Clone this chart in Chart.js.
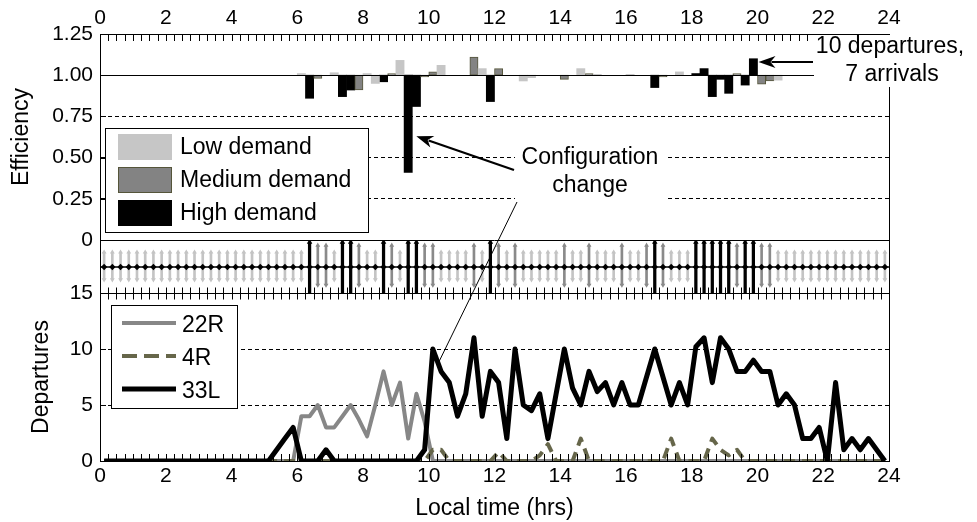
<!DOCTYPE html>
<html>
<head>
<meta charset="utf-8">
<script src="https://cdn.jsdelivr.net/npm/chart.js@4.4.1/dist/chart.umd.min.js"></script>
<style>
  html, body { margin: 0; padding: 0; background: #fff; }
  #wrap { width: 977px; height: 522px; }
</style>
</head>
<body>
<div id="wrap"><canvas id="chart"></canvas></div>
<script>
// 15 minute slots over one day, 96 of them.
const SLOT = 0.25;
const hourTicks = [0, 2, 4, 6, 8, 10, 12, 14, 16, 18, 20, 22, 24];
const effTicks = [0, 0.25, 0.5, 0.75, 1, 1.25];
const depTicks = [0, 5, 10, 15];

// demand class of each slot (everything else is low demand)
const highSlots = [25, 29, 30, 34, 37, 38, 47, 67, 72, 73, 74, 75, 76, 78, 79];
const mediumSlots = [26, 27, 31, 35, 39, 40, 45, 48, 50, 56, 59, 63, 66, 68, 77, 80, 81];

// efficiency bars (slot index -> efficiency), only where a bar shows
const effSlots = [24, 25, 26, 28, 29, 30, 31, 32, 33, 34, 35, 36, 37, 38, 39, 40, 41,
  45, 46, 47, 48, 51, 52, 56, 58, 59, 60, 64, 67, 68, 70, 72, 73, 74, 75, 76, 77, 78, 79, 80, 81, 82];
const effValues = [1.01, 0.86, 0.98, 1.015, 0.87, 0.91, 0.91, 1.01, 0.95, 0.96, 1.01, 1.09, 0.41, 0.81, 0.99, 1.02, 1.06,
  1.11, 1.04, 0.84, 1.04, 0.965, 0.985, 0.975, 1.04, 1.01, 1.005, 1.005, 0.925, 0.99, 1.02, 1.01, 1.04, 0.87, 0.975, 0.89, 1.01, 0.94, 1.10, 0.945, 0.965, 0.97];

// departures per slot, by runway
const dep22R = [
  0, 0, 0, 0, 0, 0, 0, 0, 0, 0, 0, 0, 0, 0, 0, 0, 0, 0, 0, 0, 0, 0, 0, 0,
  4, 4, 5, 3, 3, 4, 5, 3.7, 2.2, 5, 8, 5, 7, 2, 6, 3.5, 0, 0, 0, 0, 0, 0, 0, 0,
  0, 0, 0, 0, 0, 0, 0, 0, 0, 0, 0, 0, 0, 0, 0, 0, 0, 0, 0, 0, 0, 0, 0, 0,
  0, 0, 0, 0, 0, 0, 0, 0, 0, 0, 0, 0, 0, 0, 0, 0, 0, 0, 0, 0, 0, 0, 0, 0
];
const dep4R = [
  0, 0, 0, 0, 0, 0, 0, 0, 0, 0, 0, 0, 0, 0, 0, 0, 0, 0, 0, 0, 0, 0, 0, 0,
  0, 0, 0, 0, 0, 0, 0, 0, 0, 0, 0, 0, 0, 0, 0, 0, 1, 1, 0, 0, 0, 0, 0, 0,
  0.8, 0, 0, 0, 0, 0.5, 1.5, 0, 0, 0, 2, 0, 0, 0, 0, 0, 0, 0, 0, 0, 0, 2, 0, 0,
  0, 0, 2, 1, 0.5, 1, 0, 0, 0, 0, 0, 0, 0, 0, 0, 0, 0, 0, 0, 0, 0, 0, 0, 0
];
const dep33L = [
  0, 0, 0, 0, 0, 0, 0, 0, 0, 0, 0, 0, 0, 0, 0, 0, 0, 0, 0, 0, 0, 1, 2, 3,
  0, 0, 0, 1, 0, 0, 0, 0, 0, 0, 0, 0, 0, 0, 0, 1, 10, 8, 7, 4, 6, 11, 4, 8,
  7, 2, 10, 5, 4.5, 6, 2, 6, 10, 6.5, 5, 8, 6.2, 7, 5, 7, 5, 5, 7.5, 10, 7.5, 5, 7, 5,
  10.2, 11, 7, 11, 10, 8, 8, 9, 8, 8, 5, 6, 5, 2, 2, 3, 0, 7, 1, 2, 1, 2, 1, 0
];

// stem extent on the strip by demand class (low, medium, high) and the strip axis
const stemRange = [[0.25, 0.77], [0.15, 0.9], [0, 0.96]];
const stripLine = 0.49;

const FONT = '"Liberation Sans", Arial, Helvetica, sans-serif';
Chart.defaults.font.family = FONT;
Chart.defaults.font.size = 21;
Chart.defaults.color = '#000';

const demandLabels = ['Low demand', 'Medium demand', 'High demand'];
const barColor = ['#c6c6c6', '#838383', '#000000'];
const barBorder = ['#c6c6c6', '#55553a', '#000000'];
const stemColor = ['#c4c4c4', '#8a8a8a', '#000000'];

const slots = dep33L.map((_, k) => k);
const slotCenter = k => k * SLOT + SLOT / 2;
const demandOf = k => highSlots.includes(k) ? 2 : (mediumSlots.includes(k) ? 1 : 0);

function effBars(c) {
  const pts = [];
  effSlots.forEach((k, i) => {
    if (demandOf(k) === c) pts.push({ x: slotCenter(k), y: [1, effValues[i]] });
  });
  return {
    type: 'bar', label: demandLabels[c], xAxisID: 'x', yAxisID: 'yEff', data: pts,
    grouped: false, barPercentage: 1, categoryPercentage: 1,
    backgroundColor: barColor[c], borderColor: barBorder[c],
    borderWidth: c === 1 ? 1 : 0, borderSkipped: false
  };
}

function stems(c) {
  return {
    type: 'bar', xAxisID: 'x', yAxisID: 'yStrip',
    data: slots.filter(k => demandOf(k) === c).map(k => ({ x: slotCenter(k), y: stemRange[c] })),
    grouped: false, barPercentage: 1, categoryPercentage: 1,
    maxBarThickness: c === 2 ? 2.6 : 2, backgroundColor: stemColor[c], borderWidth: 0
  };
}

function heads(c, top) {
  return {
    type: 'line', showLine: false, xAxisID: 'x', yAxisID: 'yStrip',
    data: slots.filter(k => demandOf(k) === c).map(k => ({ x: slotCenter(k), y: stemRange[c][top ? 1 : 0] })),
    pointStyle: 'triangle', pointRotation: top ? 0 : 180, pointRadius: c === 2 ? 3.2 : 2.8,
    pointBackgroundColor: stemColor[c], pointBorderColor: stemColor[c], pointBorderWidth: 0
  };
}

function depLine(label, values, color, width, dash) {
  return {
    type: 'line', label: label, xAxisID: 'x', yAxisID: 'yDep',
    data: values.map((v, k) => ({ x: slotCenter(k), y: v })),
    borderColor: color, backgroundColor: color, borderWidth: width, borderDash: dash,
    borderJoinStyle: 'round', pointRadius: 0, tension: 0, fill: false
  };
}

const runway22R = depLine('22R', dep22R, '#878787', 4, []);
const runway4R = depLine('4R', dep4R, '#66664a', 4, [11, 7]);
const runway33L = depLine('33L', dep33L, '#000000', 5, []);

const stripCenter = {
  type: 'line', xAxisID: 'x', yAxisID: 'yStrip',
  data: [{ x: 0, y: stripLine }].concat(slots.map(k => ({ x: slotCenter(k), y: stripLine })), [{ x: 24, y: stripLine }]),
  borderColor: '#000', borderWidth: 1.5, tension: 0,
  pointStyle: 'rectRot', pointBackgroundColor: '#000', pointBorderColor: '#000', pointBorderWidth: 0,
  pointRadius: ctx => (ctx.raw.x === 0 || ctx.raw.x === 24) ? 0 : 3.2
};

function seg(ctx, x1, y1, x2, y2) {
  ctx.beginPath();
  ctx.moveTo(x1, y1);
  ctx.lineTo(x2, y2);
  ctx.stroke();
}

function arrow(ctx, x1, y1, x2, y2) {
  const ang = Math.atan2(y2 - y1, x2 - x1);
  const len = 17, half = 6;
  const bx = x2 - len * Math.cos(ang), by = y2 - len * Math.sin(ang);
  ctx.lineWidth = 2.2;
  seg(ctx, x1, y1, bx + 4 * Math.cos(ang), by + 4 * Math.sin(ang));
  ctx.beginPath();
  ctx.moveTo(x2, y2);
  ctx.lineTo(bx - half * Math.sin(ang), by + half * Math.cos(ang));
  ctx.lineTo(bx + 5 * Math.cos(ang), by + 5 * Math.sin(ang));
  ctx.lineTo(bx + half * Math.sin(ang), by - half * Math.cos(ang));
  ctx.closePath();
  ctx.fill();
}

// frame, inward ticks, legends and the two call-outs
const decorations = {
  id: 'decorations',
  afterDatasetsDraw(chart) {
    const { ctx, chartArea: a, scales } = chart;
    const x = scales.x, yE = scales.yEff, yD = scales.yDep;
    const px = v => Math.round(v) + 0.5;
    ctx.save();
    ctx.strokeStyle = '#000';
    ctx.fillStyle = '#000';
    ctx.lineWidth = 1;

    const y1 = px(yE.getPixelForValue(1));
    const y0 = px(yE.getPixelForValue(0));
    const y15 = px(yD.getPixelForValue(15));
    seg(ctx, a.left, y1, a.right, y1);
    seg(ctx, a.left, y0, a.right, y0);
    seg(ctx, a.left, y15, a.right, y15);
    seg(ctx, px(a.right), a.top, px(a.right), a.bottom);

    for (let k = 0; k <= 96; k++) {
      const tx = px(x.getPixelForValue(k * SLOT));
      seg(ctx, tx, a.top, tx, a.top + 7);
      seg(ctx, tx, y15 - 6, tx, y15 + 6);
      seg(ctx, tx, a.bottom - 7, tx, a.bottom);
    }
    effTicks.forEach(v => { const ty = px(yE.getPixelForValue(v)); seg(ctx, a.left, ty, a.left + 6, ty); });
    depTicks.forEach(v => { const ty = px(yD.getPixelForValue(v)); seg(ctx, a.left, ty, a.left + 6, ty); });

    ctx.font = '23px ' + FONT;
    ctx.textBaseline = 'middle';

    // demand legend
    ctx.fillStyle = '#fff';
    ctx.fillRect(105.5, 128.5, 263, 104);
    ctx.strokeRect(105.5, 128.5, 263, 104);
    demandLabels.forEach((label, i) => {
      const sy = 134 + i * 33;
      ctx.fillStyle = barColor[i];
      ctx.fillRect(118, sy, 54, 26);
      if (i === 1) { ctx.strokeStyle = barBorder[1]; ctx.strokeRect(118.5, sy + 0.5, 53, 25); ctx.strokeStyle = '#000'; }
      ctx.fillStyle = '#000';
      ctx.textAlign = 'left';
      ctx.fillText(label, 180, sy + 14);
    });

    // runway legend
    ctx.fillStyle = '#fff';
    ctx.fillRect(111.5, 305.5, 126, 103);
    ctx.strokeRect(111.5, 305.5, 126, 103);
    [runway22R, runway4R, runway33L].forEach((ds, i) => {
      const ly = 323 + i * 33;
      ctx.save();
      ctx.strokeStyle = ds.borderColor;
      ctx.lineWidth = ds.borderWidth;
      ctx.setLineDash(ds.borderDash.length ? [15, 7] : []);
      seg(ctx, 122, ly, 176, ly);
      ctx.restore();
      ctx.fillStyle = '#000';
      ctx.textAlign = 'left';
      ctx.fillText(ds.label, 182, ly + 3);
    });

    // "10 departures, 7 arrivals"
    ctx.fillStyle = '#fff';
    ctx.fillRect(814, 35, 163, 52);
    ctx.fillStyle = '#000';
    ctx.textAlign = 'center';
    ctx.fillText('10 departures,', 890, 47);
    ctx.fillText('7 arrivals', 892, 75);
    arrow(ctx, 813, yE.getPixelForValue(1.08), x.getPixelForValue(20) + 1, yE.getPixelForValue(1.08));

    // "Configuration change"
    ctx.fillStyle = '#fff';
    ctx.fillRect(515, 141, 151, 61);
    ctx.fillStyle = '#000';
    ctx.fillText('Configuration', 590, 158);
    ctx.fillText('change', 590, 186);
    arrow(ctx, 514, 170, x.getPixelForValue(9.5) + 4, yE.getPixelForValue(0.63));
    ctx.lineWidth = 1;
    seg(ctx, 517, 202, x.getPixelForValue(10.3), yD.getPixelForValue(8.8));
    ctx.restore();
  }
};

const hourAxis = (position, height, extra) => Object.assign({
  type: 'linear', position: position, min: 0, max: 24, offset: false,
  grid: { display: false, drawTicks: false },
  border: { display: true, color: '#000', width: 1 },
  ticks: { font: { size: 21 }, maxRotation: 0, autoSkip: false },
  afterBuildTicks: s => { s.ticks = hourTicks.map(v => ({ value: v })); },
  afterFit: s => { s.height = height; }
}, extra);

new Chart(document.getElementById('chart'), {
  type: 'line',
  data: {
    datasets: [
      runway33L, runway4R, runway22R,
      stripCenter,
      heads(2, true), heads(1, true), heads(1, false), heads(0, true), heads(0, false),
      stems(2), stems(1), stems(0),
      effBars(0), effBars(1), effBars(2)
    ]
  },
  options: {
    responsive: true,
    maintainAspectRatio: false,
    animation: false,
    events: [],
    layout: { padding: { left: 0, right: 88, top: 0, bottom: 0 } },
    plugins: { legend: { display: false }, tooltip: { enabled: false } },
    scales: {
      x: hourAxis('bottom', 61, {
        title: { display: true, text: 'Local time (hrs)', font: { size: 23 }, padding: { top: 0, bottom: 0 } }
      }),
      xTop: hourAxis('top', 34, {}),
      yEff: {
        type: 'linear', position: 'left', stack: 'panels', stackWeight: 206, weight: 3,
        min: 0, max: 1.25,
        afterBuildTicks: s => { s.ticks = effTicks.map(v => ({ value: v })); },
        ticks: { padding: 7, autoSkip: false, callback: v => v === 0 ? '0' : v.toFixed(2) },
        grid: {
          drawTicks: false, lineWidth: 1,
          color: c => [0.25, 0.5, 0.75].includes(c.tick.value) ? '#000' : 'rgba(0,0,0,0)'
        },
        border: { display: true, color: '#000', width: 1, dash: [4, 3] },
        title: { display: true, text: 'Efficiency', font: { size: 23 }, padding: { top: 8, bottom: 0 } },
        afterFit: s => { s.width = 100; }
      },
      yStrip: {
        type: 'linear', position: 'left', stack: 'panels', stackWeight: 53, weight: 2,
        min: 0, max: 1,
        ticks: { display: false },
        grid: { display: false, drawTicks: false },
        border: { display: true, color: '#000', width: 1 },
        afterFit: s => { s.width = 100; }
      },
      yDep: {
        type: 'linear', position: 'left', stack: 'panels', stackWeight: 168, weight: 1,
        min: 0, max: 15,
        afterBuildTicks: s => { s.ticks = depTicks.map(v => ({ value: v })); },
        ticks: { padding: 7, autoSkip: false },
        grid: {
          drawTicks: false, lineWidth: 1,
          color: c => [5, 10].includes(c.tick.value) ? '#000' : 'rgba(0,0,0,0)'
        },
        border: { display: true, color: '#000', width: 1, dash: [4, 3] },
        title: { display: true, text: 'Departures', font: { size: 23 }, padding: { top: 28, bottom: 0 } },
        afterFit: s => { s.width = 100; }
      }
    }
  },
  plugins: [decorations]
});
</script>
</body>
</html>
